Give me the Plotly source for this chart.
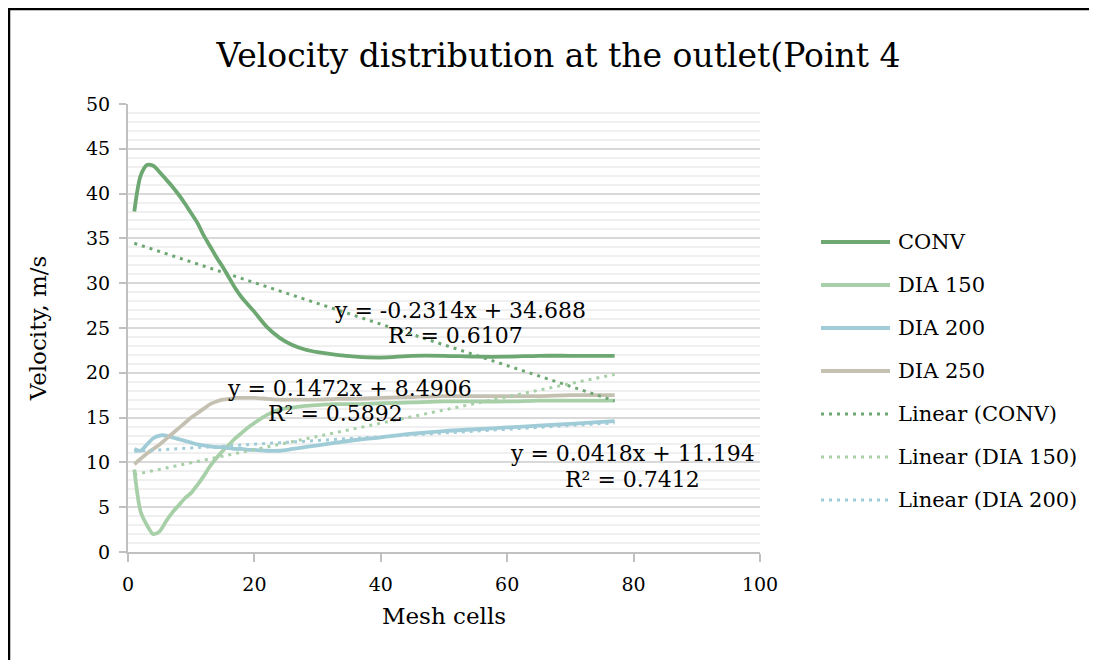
import plotly.graph_objects as go

# ---------------- data ----------------
mesh_cells = [1, 2, 3, 4, 5, 6, 7, 8, 9, 10, 11, 12, 13, 14, 15, 16, 17, 18, 19, 20,
              22, 24, 26, 28, 30, 33, 36, 40, 45, 50, 55, 60, 65, 70, 77]
conv = [38.0, 42.0, 43.2, 43.1, 42.4, 41.6, 40.8, 39.9, 38.9, 37.8, 36.7, 35.3, 34.1, 32.9,
        31.8, 30.6, 29.4, 28.4, 27.6, 26.8, 25.1, 23.9, 23.1, 22.6, 22.3, 22.0, 21.8, 21.7,
        21.9, 21.9, 21.8, 21.8, 21.9, 21.9, 21.9]
dia150 = [9.2, 4.5, 3.0, 2.0, 2.3, 3.4, 4.4, 5.2, 6.0, 6.6, 7.5, 8.5, 9.6, 10.5, 11.3, 12.0,
          12.7, 13.3, 13.9, 14.4, 15.3, 15.9, 16.1, 16.3, 16.4, 16.5, 16.5, 16.6, 16.7, 16.8,
          16.8, 16.8, 16.9, 16.9, 16.9]
dia200 = [11.5, 11.3, 12.0, 12.7, 13.0, 13.0, 12.8, 12.6, 12.4, 12.2, 12.0, 11.9, 11.8, 11.7,
          11.7, 11.6, 11.5, 11.5, 11.4, 11.4, 11.3, 11.3, 11.5, 11.7, 11.9, 12.2, 12.5, 12.8,
          13.2, 13.5, 13.7, 13.9, 14.1, 14.3, 14.6]
dia250 = [9.8, 10.4, 11.0, 11.5, 12.0, 12.6, 13.2, 13.8, 14.4, 15.0, 15.5, 16.0, 16.5, 16.8,
          17.0, 17.1, 17.2, 17.2, 17.2, 17.2, 17.1, 17.0, 17.0, 17.0, 17.0, 17.1, 17.1, 17.2,
          17.3, 17.4, 17.4, 17.4, 17.4, 17.5, 17.5]

series_names = ["CONV", "DIA 150", "DIA 200", "DIA 250"]
series_colors = ["#6da772", "#a8d0a8", "#a0ccd8", "#c5c1b2"]

# linear trendlines (from the chart's equations)
trend_x = [1, 77]
trend_names = ["Linear (CONV)", "Linear (DIA 150)", "Linear (DIA 200)"]
trend_slopes = [-0.2314, 0.1472, 0.0418]
trend_intercepts = [34.688, 8.4906, 11.194]
trend_equations = ["y = -0.2314x + 34.688", "y = 0.1472x + 8.4906", "y = 0.0418x + 11.194"]
trend_r2 = ["R² = 0.6107", "R² = 0.5892", "R² = 0.7412"]
trend_colors = ["#6da772", "#a8d0a8", "#a0ccd8"]

x_ticks = [0, 20, 40, 60, 80, 100]
y_ticks = [0, 5, 10, 15, 20, 25, 30, 35, 40, 45, 50]

# ---------------- layout geometry (screen pixels, page offset 8px) ----------------
OFF = 8
W, H = 1097, 660
L, R, T, B = 128, 760, 104, 552  # plot area on screen
FONT = "'DejaVu Serif', Georgia, serif"


def px(xp):
    return (xp - L) / (R - L)


def py(yp):
    return (B - yp) / (B - T)


fig = go.Figure()
all_series = [conv, dia150, dia200, dia250]
for name, vals, col in zip(series_names, all_series, series_colors):
    fig.add_trace(go.Scatter(x=mesh_cells, y=vals, name=name, mode="lines",
                             line=dict(color=col, width=3.8, shape="spline", smoothing=0.8),
                             showlegend=False))
for name, m, c, col in zip(trend_names, trend_slopes, trend_intercepts, trend_colors):
    fig.add_trace(go.Scatter(x=trend_x, y=[m * xv + c for xv in trend_x], name=name, mode="lines",
                             line=dict(color=col, width=3, dash="3px,5px"),
                             showlegend=False))

shapes = []
annotations = []
# outer chart border
shapes.append(dict(type="rect", xref="paper", yref="paper",
                   x0=px(9), x1=px(1120), y0=py(680), y1=py(9),
                   line=dict(color="black", width=2.5), fillcolor="rgba(0,0,0,0)", layer="below"))

# manual legend
leg_items = list(zip(series_names, series_colors, ["solid"] * 4)) + \
    list(zip(trend_names, trend_colors, ["3px,5px"] * 3))
for i, (name, col, dash) in enumerate(leg_items):
    yc = 242 + 43 * i
    shapes.append(dict(type="line", xref="paper", yref="paper",
                       x0=px(821), x1=px(890), y0=py(yc), y1=py(yc),
                       line=dict(color=col, width=3.8 if dash == "solid" else 3, dash=dash)))
    annotations.append(dict(xref="paper", yref="paper", x=px(896), y=py(yc), text=name,
                            showarrow=False, xanchor="left", yanchor="middle",
                            font=dict(family=FONT, size=21, color="black")))

# trendline equation labels (two lines each)
eq_pos = [(460, 310), (349, 388), (632, 453)]
r2_pos = [(455, 335), (335, 413), (632, 479)]
for eq, r2, (ex, ey), (rx, ry) in zip(trend_equations, trend_r2, eq_pos, r2_pos):
    annotations.append(dict(xref="paper", yref="paper", x=px(ex), y=py(ey), text=eq,
                            showarrow=False, xanchor="center", yanchor="middle",
                            font=dict(family=FONT, size=22, color="black")))
    annotations.append(dict(xref="paper", yref="paper", x=px(rx), y=py(ry), text=r2,
                            showarrow=False, xanchor="center", yanchor="middle",
                            font=dict(family=FONT, size=22, color="black")))

fig.update_layout(
    width=W, height=H,
    margin=dict(l=L - OFF, r=W - (R - OFF), t=T - OFF, b=H - (B - OFF), pad=0),
    paper_bgcolor="white", plot_bgcolor="white",
    font=dict(family=FONT, size=19, color="black"),
    title=dict(text="Velocity distribution at the outlet(Point 4", x=(220 + 897) / 2 / W - OFF / W,
               xanchor="center", y=1 - (55 - OFF) / H, yanchor="middle",
               font=dict(family=FONT, size=33, color="black")),
    showlegend=False,
    shapes=shapes,
    annotations=annotations,
)
fig.update_xaxes(range=[0, 100], tickvals=x_ticks, ticktext=[str(v) for v in x_ticks],
                 showgrid=False, zeroline=False,
                 showline=True, linecolor="#c0c0c0", linewidth=2,
                 ticks="outside", ticklen=8, tickwidth=2, tickcolor="#c0c0c0",
                 ticklabelstandoff=6,
                 tickfont=dict(family=FONT, size=19, color="black"),
                 title=dict(text="Mesh cells", standoff=14,
                            font=dict(family=FONT, size=23, color="black")))
fig.update_yaxes(range=[0, 50], tickvals=y_ticks, ticktext=[str(v) for v in y_ticks],
                 showgrid=True, gridcolor="#d9d9d9", gridwidth=2, zeroline=False,
                 showline=True, linecolor="#c0c0c0", linewidth=2,
                 ticks="outside", ticklen=7, tickwidth=2, tickcolor="#c0c0c0",
                 ticklabelstandoff=5,
                 tickfont=dict(family=FONT, size=19, color="black"),
                 minor=dict(dtick=1, showgrid=True, gridcolor="#f0f0f0", gridwidth=2, ticks=""),
                 title=dict(text="Velocity, m/s", standoff=33,
                            font=dict(family=FONT, size=23, color="black")))

fig.write_html("out.html")
